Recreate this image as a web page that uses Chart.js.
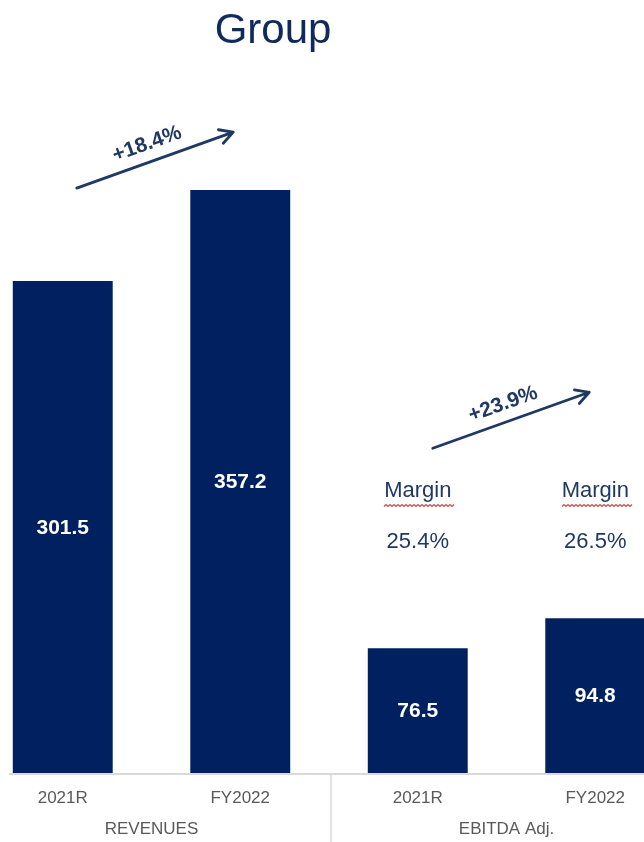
<!DOCTYPE html>
<html>
<head>
<meta charset="utf-8">
<script src="https://cdn.jsdelivr.net/npm/chart.js@4/dist/chart.umd.min.js"></script>
<style>
  html, body { margin: 0; padding: 0; background: #ffffff; overflow: hidden; }
  body { width: 644px; height: 842px; position: relative; }
  #wrap { position: absolute; left: -26px; top: 0; width: 710px; height: 842px; }
</style>
</head>
<body>
<div id="wrap"><canvas id="c" width="710" height="842"></canvas></div>
<script>
// ---- data ----
const categories = ["2021R", "FY2022", "2021R", "FY2022"];
const groups = ["REVENUES", "EBITDA Adj."];
const values = [301.5, 357.2, 76.5, 94.8];
const growthLabels = ["+18.4%", "+23.9%"];
const marginLabels = ["25.4%", "26.5%"];
const titleText = "Group";

const BAR = "#002060";
const DARK = "#1f3864";
const GREY = "#595959";
const LINE = "#d9d9d9";

function arrow(ctx, x1, y1, x2, y2, label) {
  ctx.save();
  ctx.strokeStyle = DARK;
  ctx.lineWidth = 2.8;
  ctx.lineCap = "round";
  ctx.lineJoin = "round";
  ctx.beginPath();
  ctx.moveTo(x1, y1);
  ctx.lineTo(x2, y2);
  const a = Math.atan2(y2 - y1, x2 - x1);
  const L = 15, w = 0.5;
  ctx.moveTo(x2 - L * Math.cos(a - w), y2 - L * Math.sin(a - w));
  ctx.lineTo(x2, y2);
  ctx.lineTo(x2 - L * Math.cos(a + w), y2 - L * Math.sin(a + w));
  ctx.stroke();
  // label
  const mx = (x1 + x2) / 2, my = (y1 + y2) / 2;
  ctx.translate(mx - 8, my - 16);
  ctx.rotate(a);
  ctx.fillStyle = DARK;
  ctx.font = "bold 21px 'Liberation Sans', Arial, sans-serif";
  ctx.textAlign = "center";
  ctx.textBaseline = "middle";
  ctx.fillText(label, 0, 0);
  ctx.restore();
}

function squiggle(ctx, x1, x2, y) {
  ctx.save();
  ctx.strokeStyle = "#e8423f";
  ctx.lineWidth = 1.2;
  ctx.beginPath();
  let up = true;
  y = Math.round(y) + 0.5;
  x1 = Math.round(x1);
  ctx.moveTo(x1, y);
  for (let x = x1 + 2; x <= x2; x += 2) {
    ctx.lineTo(x, up ? y - 2 : y);
    up = !up;
  }
  ctx.stroke();
  ctx.restore();
}

const decor = {
  id: "decor",
  afterDatasetsDraw(chart) {
    const ctx = chart.ctx;
    const bars = chart.getDatasetMeta(0).data;
    const area = chart.chartArea;
    const off = 26; // canvas offset vs page
    // value labels inside bars
    ctx.save();
    ctx.fillStyle = "#ffffff";
    ctx.font = "bold 21px 'Liberation Sans', Arial, sans-serif";
    ctx.textAlign = "center";
    ctx.textBaseline = "middle";
    bars.forEach((b, i) => {
      ctx.fillText(values[i].toFixed(1), b.x, (b.y + b.base) / 2 + 1);
    });
    ctx.restore();

    // axis line and separator
    const yb = area.bottom;
    ctx.save();
    ctx.strokeStyle = LINE;
    ctx.lineWidth = 2;
    ctx.beginPath();
    ctx.moveTo(9 + off, yb + 1);
    ctx.lineTo(chart.width, yb + 1);
    ctx.stroke();
    const sepX = chart.scales.x.getPixelForValue(1.5);
    ctx.lineWidth = 1.5;
    ctx.beginPath();
    ctx.moveTo(sepX + 2, yb + 1);
    ctx.lineTo(sepX + 2, chart.height);
    ctx.stroke();
    ctx.restore();

    // tick and group labels
    ctx.save();
    ctx.fillStyle = GREY;
    ctx.font = "17px 'Liberation Sans', Arial, sans-serif";
    ctx.textAlign = "center";
    ctx.textBaseline = "middle";
    bars.forEach((b, i) => ctx.fillText(categories[i], b.x, yb + 25));
    ctx.fillText(groups[0], (bars[0].x + bars[1].x) / 2, yb + 56);
    ctx.fillText(groups[1], (bars[2].x + bars[3].x) / 2, yb + 56);
    ctx.restore();

    // title
    ctx.save();
    ctx.fillStyle = "#0f2a5c";
    ctx.font = "42px 'Liberation Sans', Arial, sans-serif";
    ctx.textAlign = "center";
    ctx.textBaseline = "alphabetic";
    ctx.fillText(titleText, 273 + off, 43);
    ctx.restore();

    // growth arrows
    arrow(ctx, bars[0].x + 14, bars[1].y - 2, bars[1].x - 7, bars[1].y - 58, growthLabels[0]);
    arrow(ctx, bars[2].x + 15, bars[3].y - 170, bars[3].x - 6, bars[3].y - 226, growthLabels[1]);

    // margins
    ctx.save();
    ctx.fillStyle = DARK;
    ctx.font = "22px 'Liberation Sans', Arial, sans-serif";
    ctx.textAlign = "center";
    ctx.textBaseline = "middle";
    [2, 3].forEach((k, j) => {
      const x = bars[k].x;
      ctx.fillText("Margin", x, bars[3].y - 127);
      const w = ctx.measureText("Margin").width;
      squiggle(ctx, x - w / 2, x + w / 2 + 4, bars[3].y - 112);
      ctx.fillText(marginLabels[j], x, bars[3].y - 76);
    });
    ctx.restore();
  }
};

new Chart(document.getElementById("c"), {
  type: "bar",
  data: {
    labels: categories,
    datasets: [{
      data: values,
      backgroundColor: BAR,
      borderWidth: 0,
      categoryPercentage: 1.0,
      barPercentage: 0.563
    }]
  },
  options: {
    responsive: false,
    animation: false,
    layout: { padding: { top: 6, bottom: 69, left: 0, right: 0 } },
    plugins: { legend: { display: false }, tooltip: { enabled: false }, title: { display: false } },
    scales: {
      x: { display: false },
      y: { display: false, min: 0, max: 470 }
    }
  },
  plugins: [decor]
});
</script>
</body>
</html>
